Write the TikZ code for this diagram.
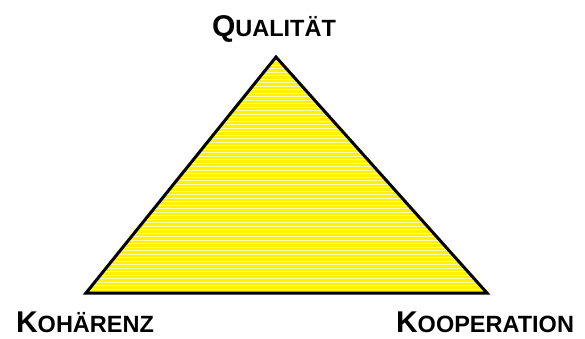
\documentclass[tikz,border=0pt]{standalone}
\usepackage{fontspec}
\setmainfont{Liberation Sans}
\newcommand{\BigL}[1]{{\fontsize{30}{30}\selectfont #1}}
\newcommand{\SmL}[1]{{\fontsize{23.5}{23.5}\selectfont #1}}
\begin{document}
\begin{tikzpicture}[x=1pt,y=-1pt,
  lbl/.style={font=\bfseries, inner sep=0pt, anchor=base, text depth=0pt},
  edge/.style={line width=3pt, line join=miter}]
\useasboundingbox (0,0) rectangle (585,338);
\coordinate (top) at (276,57);
\coordinate (bl) at (86,293);
\coordinate (br) at (487,293);
\fill[yellow] (top) -- (bl) -- (br) -- cycle;
\begin{scope}
\clip (top) -- (bl) -- (br) -- cycle;
\foreach \y in {58,61.5,...,294} {
  \draw[white!65!yellow, line width=0.9pt] (80,\y) -- (500,\y);
}
\end{scope}
\draw[edge] (top) -- (bl) -- (br) -- cycle;
\node[lbl] (q) at (274,36) {\BigL{Q}\SmL{UALITÄT}};
\node[lbl] (k) at (85,332.5) {\BigL{K}\SmL{OHÄRENZ}};
\node[lbl] (ko) at (485,332.5) {\BigL{K}\SmL{OOPERATION}};
\end{tikzpicture}
\end{document}
